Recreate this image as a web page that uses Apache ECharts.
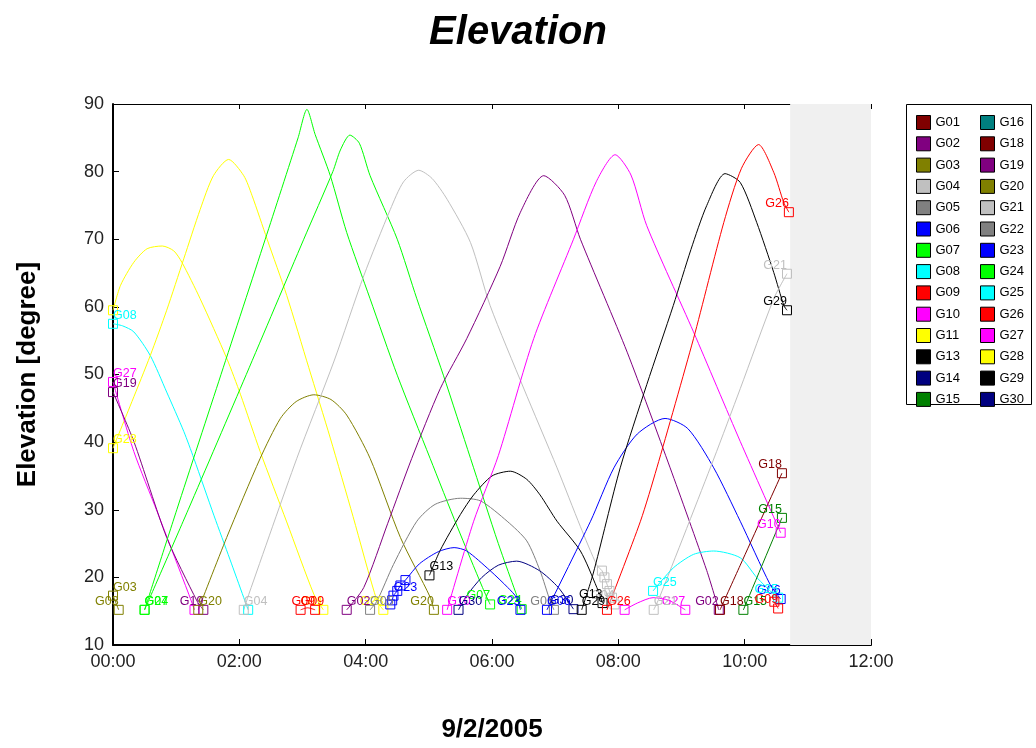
<!DOCTYPE html>
<html><head><meta charset="utf-8">
<script src="https://cdn.jsdelivr.net/npm/echarts/dist/echarts.min.js"></script>
<style>html,body{margin:0;padding:0;background:#fff}#c{width:1036px;height:748px}</style>
</head><body><div id="c"></div><script>
// ---- tick labels ----
const X_TICK_LABELS = ['00:00','02:00','04:00','06:00','08:00','10:00','12:00'];
const LEGEND_COL1 = ['G01','G02','G03','G04','G05','G06','G07','G08','G09','G10','G11','G13','G14','G15'];
const LEGEND_COL2 = ['G16','G18','G19','G20','G21','G22','G23','G24','G25','G26','G27','G28','G29','G30'];
// ---- passes: [hours since 00:00, elevation deg] ----
const G03_p1 = [[0,17.3],[0.09,15.2]];
const G11_p1 = [[0,59.5],[0.12,63.2],[0.33,66.6],[0.54,68.6],[0.78,69],[0.96,68.3],[1.09,66.6],[1.38,61.2],[1.8,52.4],[2.02,47],[2.33,38.6],[2.75,28.2],[3.18,17.5],[3.33,15.2]];
const G08_p1 = [[0,57.5],[0.15,57.2],[0.33,56.3],[0.59,52.8],[0.85,47.4],[1.12,41.6],[1.28,37.6],[1.6,29.1],[1.85,22.7],[2.07,17],[2.14,15.2]];
const G28_p1 = [[0,39.1],[0.3,46],[0.59,52.8],[0.85,59.5],[1.12,67.1],[1.38,74.4],[1.59,79.4],[1.83,81.8],[2.07,79.4],[2.2,76.5],[2.44,70],[2.75,61.7],[3.1,51],[3.44,40.6],[3.8,29],[4.18,16.5],[4.28,15.2]];
const G27_p1 = [[0,48.9],[0.33,38.6],[0.7,29.7],[1.2,17.5],[1.29,15.2]];
const G19_p1 = [[0,47.4],[0.33,40.1],[0.85,25.9],[1.33,16.5],[1.43,15.2]];
const G07_p1 = [[0.5,15.2],[1.01,30],[1.71,50],[2.41,70],[2.93,85],[3.07,89.2],[3.2,85.5],[3.44,79.4],[3.7,71],[4.07,61.2],[4.5,49.9],[5.02,37.6],[5.45,27.5],[5.85,18.5],[5.97,16]];
const G24_p1 = [[0.5,15.2],[1.19,30],[2.11,50],[3.02,70],[3.48,80],[3.6,83.2],[3.75,85.4],[3.9,84.2],[4.07,79.4],[4.5,70],[4.81,61.2],[5.23,49.9],[5.66,37.6],[6.1,25],[6.47,15.3]];
const G20_p1 = [[1.35,15.2],[1.8,25.9],[2.33,37.6],[2.65,43.5],[2.9,46],[3.18,47],[3.45,46.3],[3.7,44],[4.07,37.6],[4.55,25.9],[5.02,17.1],[5.08,15.2]];
const G04_p1 = [[2.07,15.2],[2.15,17.5],[2.91,37.6],[3.5,52],[3.97,64.6],[4.39,74.4],[4.6,78.5],[4.84,80.2],[5.05,79],[5.29,75.9],[5.66,69.5],[5.97,60.2],[6.5,48],[7.03,36.2],[7.4,27.5],[7.66,21.8],[7.74,21],[7.78,20],[7.82,19],[7.86,18],[7.9,17],[7.94,16]];
const G09_p1 = [[2.97,15.2],[3.08,15.5],[3.2,15.2]];
const G02_p1 = [[3.7,15.2],[3.97,18.5],[4.35,28],[4.73,37.6],[5.18,47.9],[5.6,55.3],[6.13,66],[6.45,74],[6.82,79.4],[7.15,76.5],[7.4,70],[8.14,53.3],[8.82,36.2],[9.4,21],[9.59,15.2]];
const G05_p1 = [[4.07,15.2],[4.18,16.5],[4.44,21.9],[4.81,28.3],[5.1,30.8],[5.5,31.7],[5.82,31.3],[6.24,28.3],[6.55,25.4],[6.76,21],[6.92,16.5],[6.98,15.2]];
const G23_p1 = [[4.39,16],[4.42,16.6],[4.44,17.3],[4.5,18],[4.55,18.8],[4.63,19.6],[4.85,22],[5.15,23.8],[5.4,24.4],[5.6,23.9],[5.97,21],[6.25,18.5],[6.39,17],[6.45,15.2]];
const G13_p1 = [[5.01,20.3],[5.18,24],[5.5,29.3],[5.71,32.2],[6.0,35],[6.29,35.7],[6.55,34.5],[6.76,32.2],[7.03,28.3],[7.4,23.9],[7.66,18.5],[7.75,16.2]];
const G10_p1 = [[5.29,15.2],[5.71,28.3],[6.1,38],[6.66,55.3],[7.29,70],[7.65,78.5],[7.95,82.5],[8.2,79.5],[8.45,72],[9.19,56.3],[9.93,40.1],[10.57,26.6]];
const G30_p1 = [[5.47,15.2],[5.6,17.3],[5.84,20],[6.1,21.8],[6.39,22.4],[6.75,21],[7.05,18.5],[7.29,15.3]];
const G06_p1 = [[6.87,15.2],[7.56,28.3],[7.93,36.2],[8.3,41.2],[8.74,43.5],[9.1,42],[9.51,36.2],[9.93,28.3],[10.4,19],[10.57,16.8]];
const G29_p1 = [[7.42,15.2],[7.6,20.5],[8.03,36.2],[8.45,48.5],[8.87,60.2],[9.15,68.5],[9.4,75],[9.69,79.7],[9.93,78.4],[10.19,72.5],[10.46,65.1],[10.62,60.2],[10.67,59.5]];
const G26_p1 = [[7.82,15.2],[8.35,28.3],[8.61,36.2],[9.19,55.3],[9.67,72.5],[9.95,80.5],[10.22,84],[10.46,79.9],[10.62,75.4],[10.7,74]];
const G27_p2 = [[8.1,15.2],[8.3,16.2],[8.55,17],[8.8,16.6],[9.06,15.2]];
const G21_p1 = [[8.56,15.2],[8.65,17],[9.51,37.5],[9.93,47.9],[10.46,61.2],[10.67,64.9]];
const G25_p1 = [[8.55,18],[8.87,21.4],[9.19,23.4],[9.51,23.9],[9.93,22.9],[10.19,20],[10.46,17.5],[10.53,17]];
const G18_p1 = [[9.61,15.2],[9.93,21.8],[10.59,35.4]];
const G15_p1 = [[9.98,15.2],[10.59,28.8]];
const G09_p2 = [[10.47,16.4],[10.53,15.4]];
const NOW_HOURS = 10.72;

// ---- styles ----
const FONT = '"Liberation Sans", Arial, sans-serif';
const COLORS = {G01:'#800000',G02:'#800080',G03:'#808000',G04:'#C0C0C0',G05:'#808080',G06:'#0000FF',G07:'#00FF00',G08:'#00FFFF',G09:'#FF0000',G10:'#FF00FF',G11:'#FFFF00',G13:'#000000',G14:'#000080',G15:'#008000',G16:'#008080',G18:'#800000',G19:'#800080',G20:'#808000',G21:'#C0C0C0',G22:'#808080',G23:'#0000FF',G24:'#00FF00',G25:'#00FFFF',G26:'#FF0000',G27:'#FF00FF',G28:'#FFFF00',G29:'#000000',G30:'#000080'};

function range(a,b){const r=[];for(let i=a;i<=b;i++)r.push(i);return r;}
function passSeries(name, pts, o) {
  o = o || {};
  const c = COLORS[name];
  const n = pts.length;
  const marks = o.marks || [0, n-1];
  const sl = (o.sl !== undefined) ? o.sl : 0;
  const el = (o.el !== undefined) ? o.el : n-1;
  const data = pts.map((p,i) => {
    if (marks.indexOf(i) < 0) return p;
    const item = {value: p, symbol:'rect', symbolSize: 9,
      itemStyle:{color:'rgba(255,255,255,0)', borderColor:c, borderWidth:1}};
    let al = null;
    if (o.startLabel !== false && i === sl) al = 'left';
    if (o.endLabel !== false && i === el) al = 'right';
    if (al) item.label = {show:true, formatter:name, position:'top', align:al, distance:0, offset:[0,3],
      color:c, fontSize:12.5, fontFamily:FONT};
    return item;
  });
  return {type:'line', name, data, symbol:'none', smooth:0.25,
    lineStyle:{color:c, width:1}, itemStyle:{color:c}, emphasis:{disabled:true},
    silent:true, animation:false, z:3};
}

const series = [
  {type:'line', name:'bg', data:[], silent:true, animation:false, z:1,
   markArea:{silent:true, itemStyle:{color:'#F0F0F0'}, data:[[{xAxis:NOW_HOURS},{xAxis:12}]]}},
  passSeries('G03', G03_p1),
  passSeries('G11', G11_p1, {startLabel:false}),
  passSeries('G08', G08_p1, {endLabel:false}),
  passSeries('G28', G28_p1),
  passSeries('G27', G27_p1, {endLabel:false}),
  passSeries('G19', G19_p1),
  passSeries('G07', G07_p1),
  passSeries('G24', G24_p1),
  passSeries('G20', G20_p1),
  passSeries('G04', G04_p1, {marks:[0].concat(range(G04_p1.length-6, G04_p1.length-1))}),
  passSeries('G09', G09_p1),
  passSeries('G02', G02_p1),
  passSeries('G05', G05_p1),
  passSeries('G23', G23_p1, {marks:range(0,5).concat([G23_p1.length-1]), sl:2}),
  passSeries('G13', G13_p1),
  passSeries('G10', G10_p1),
  passSeries('G30', G30_p1),
  passSeries('G06', G06_p1),
  passSeries('G29', G29_p1),
  passSeries('G26', G26_p1),
  passSeries('G27', G27_p2, {startLabel:false}),
  passSeries('G21', G21_p1),
  passSeries('G25', G25_p1),
  passSeries('G18', G18_p1),
  passSeries('G15', G15_p1),
  passSeries('G09', G09_p2, {startLabel:false}),
];
// legend-only satellites with no pass in the window
['G01','G14','G16','G22'].forEach(nm => series.push(passSeries(nm, [])));

const legendCommon = {orient:'vertical', top:110, icon:'rect', itemWidth:14, itemHeight:14, itemGap:6.3,
  padding:5, selectedMode:false, itemStyle:{borderColor:'#000', borderWidth:1},
  textStyle:{fontSize:13, color:'#000', fontFamily:FONT}};

const chart = echarts.init(document.getElementById('c'), null, {renderer:'canvas'});
chart.setOption({
  animation:false,
  backgroundColor:'#fff',
  title:{text:'Elevation', left:'center', top:8,
    textStyle:{fontSize:40, fontWeight:'bold', fontStyle:'italic', color:'#000', fontFamily:FONT}},
  grid:{left:113, right:165, top:104, bottom:100},
  legend:[Object.assign({left:911, data:LEGEND_COL1}, legendCommon),
          Object.assign({left:975, data:LEGEND_COL2}, legendCommon)],
  graphic:[{type:'rect', left:906, top:104, shape:{width:125, height:300},
    style:{fill:'#fff', stroke:'#000', lineWidth:1}, z:0, silent:true}],
  xAxis:[
    {type:'value', min:0, max:12, interval:2, position:'bottom',
     axisLine:{onZero:false, lineStyle:{color:'#000', width:2}},
     axisTick:{inside:true, length:6, lineStyle:{color:'#000'}},
     axisLabel:{formatter:v => X_TICK_LABELS[Math.round(v/2)], fontSize:18, color:'#222', margin:8, fontFamily:FONT},
     splitLine:{show:false},
     name:'9/2/2005', nameLocation:'middle', nameGap:72,
     nameTextStyle:{fontSize:26, fontWeight:'bold', color:'#000', fontFamily:FONT}},
    {type:'value', min:0, max:12, interval:2, position:'top',
     axisLine:{onZero:false, lineStyle:{color:'#000', width:1}},
     axisTick:{inside:true, length:5, lineStyle:{color:'#000'}},
     axisLabel:{show:false}, splitLine:{show:false}}
  ],
  yAxis:[
    {type:'value', min:10, max:90, interval:10, position:'left',
     axisLine:{onZero:false, lineStyle:{color:'#000', width:2}},
     axisTick:{inside:true, length:6, lineStyle:{color:'#000'}},
     axisLabel:{fontSize:18, color:'#222', margin:9, fontFamily:FONT},
     splitLine:{show:false},
     name:'Elevation [degree]', nameLocation:'middle', nameGap:72, nameRotate:90,
     nameTextStyle:{fontSize:26, fontWeight:'bold', color:'#000', fontFamily:FONT}},
    {type:'value', min:10, max:90, interval:10, position:'right',
     axisLine:{show:false, onZero:false}, axisTick:{show:true, inside:true, length:5, lineStyle:{color:'#000'}},
     axisLabel:{show:false}, splitLine:{show:false}}
  ],
  series
});
</script></body></html>
